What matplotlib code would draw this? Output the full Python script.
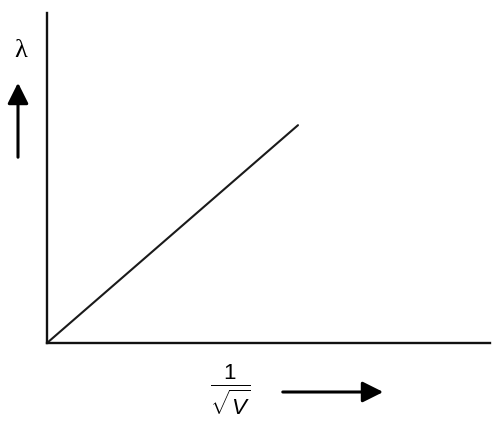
import matplotlib
matplotlib.use('Agg')
import matplotlib.pyplot as plt
from matplotlib.patches import FancyArrowPatch

plt.rcParams['font.family'] = ['Liberation Sans', 'DejaVu Sans']
plt.rcParams['mathtext.fontset'] = 'custom'
plt.rcParams['mathtext.rm'] = 'Liberation Sans'
plt.rcParams['mathtext.it'] = 'Liberation Sans:italic'

# lambda is proportional to 1/sqrt(V): straight line through the origin
inv_sqrt_v = [0.0, 1.0]
wavelength = [0.0, 1.0]

W, H = 492, 426
fig = plt.figure(figsize=(W / 100, H / 100), dpi=100)
ax = fig.add_axes([47 / W, 1 - 343 / H, 443 / W, 330 / H])

ax.plot(inv_sqrt_v, wavelength, color='#1a1a1a', lw=1.5, solid_capstyle='round')
ax.set_xlim(0, 1.765)
ax.set_ylim(0, 1.515)

for side in ['top', 'right']:
    ax.spines[side].set_visible(False)
for side in ['left', 'bottom']:
    ax.spines[side].set_linewidth(1.7)
    ax.spines[side].set_color('#111111')
ax.set_xticks([])
ax.set_yticks([])

# axis labels with arrows, placed in figure pixels (y measured from top)
def px(x, y):
    return (x / W, 1 - y / H)

fig.text(*px(21, 51), 'λ', fontsize=19, ha='center', va='center',
         family='Liberation Serif')
fig.text(*px(230, 390), r'$\frac{1}{\sqrt{V}}$', fontsize=23, ha='center', va='center')

arrow = dict(arrowstyle='-|>,head_length=0.9,head_width=0.45', color='black', lw=2.2)
fig.add_artist(FancyArrowPatch(px(18, 160), px(18, 80), transform=fig.transFigure,
                               mutation_scale=14, **arrow))
fig.add_artist(FancyArrowPatch(px(280, 392), px(386, 392), transform=fig.transFigure,
                               mutation_scale=14, **arrow))

fig.savefig('out.png', dpi=100)
